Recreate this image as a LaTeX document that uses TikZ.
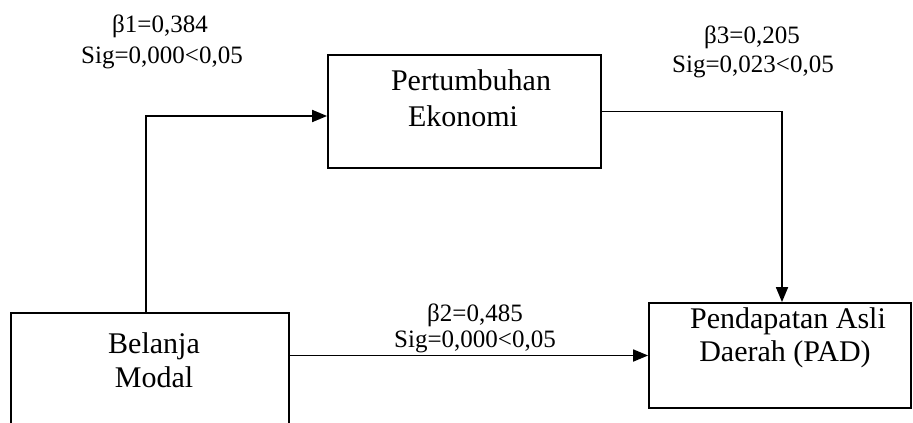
\documentclass[tikz,border=0pt]{standalone}
\usepackage{fontspec}
\setmainfont{Liberation Serif}
\usetikzlibrary{arrows.meta}
\begin{document}
\begin{tikzpicture}[x=1pt,y=-1pt,
  box/.style={draw,line width=1.8pt,rectangle,inner sep=0pt},
  boxtext/.style={anchor=base,inner sep=0pt,font=\fontsize{30}{34}\selectfont},
  lbl/.style={anchor=base,inner sep=0pt,font=\fontsize{25}{29}\selectfont},
  arr/.style={line width=1.8pt,-{Triangle[length=15pt,width=12pt]}},
  link/.style={line width=1.8pt}]
\useasboundingbox (0,0) rectangle (913,423);
% boxes
\node[box,minimum width=273pt,minimum height=113pt] (pe) at (464.5,111.5) {};
\node[box,minimum width=278pt,minimum height=127pt] (bm) at (150,376.5) {};
\node[box,minimum width=262pt,minimum height=105pt] (pad) at (780,355.5) {};
% box texts
\node[boxtext] (pe1) at (471,90) {Pertumbuhan};
\node[boxtext] (pe2) at (463,126) {Ekonomi};
\node[boxtext] (bm1) at (154,353) {Belanja};
\node[boxtext] (bm2) at (154,387) {Modal};
\node[boxtext] (pad1) at (788,328) {Pendapatan Asli};
\node[boxtext] (pad2) at (785,361) {Daerah (PAD)};
% labels
\node[lbl] (b1a) at (160,32) {β1=0,384};
\node[lbl] (b1b) at (162,63) {Sig=0,000<0,05};
\node[lbl] (b3a) at (752,43) {β3=0,205};
\node[lbl] (b3b) at (753,72) {Sig=0,023<0,05};
\node[lbl] (b2a) at (475,321) {β2=0,485};
\node[lbl] (b2b) at (475,347) {Sig=0,000<0,05};
% connectors
\draw[arr] ([xshift=-4pt]bm.north) |- ([yshift=-4.5pt]pe.west);
\draw[arr] (pe.east) -| ([xshift=2pt]pad.north);
\draw[arr] (bm.east |- pad.west) -- (pad.west);
\end{tikzpicture}
\end{document}
